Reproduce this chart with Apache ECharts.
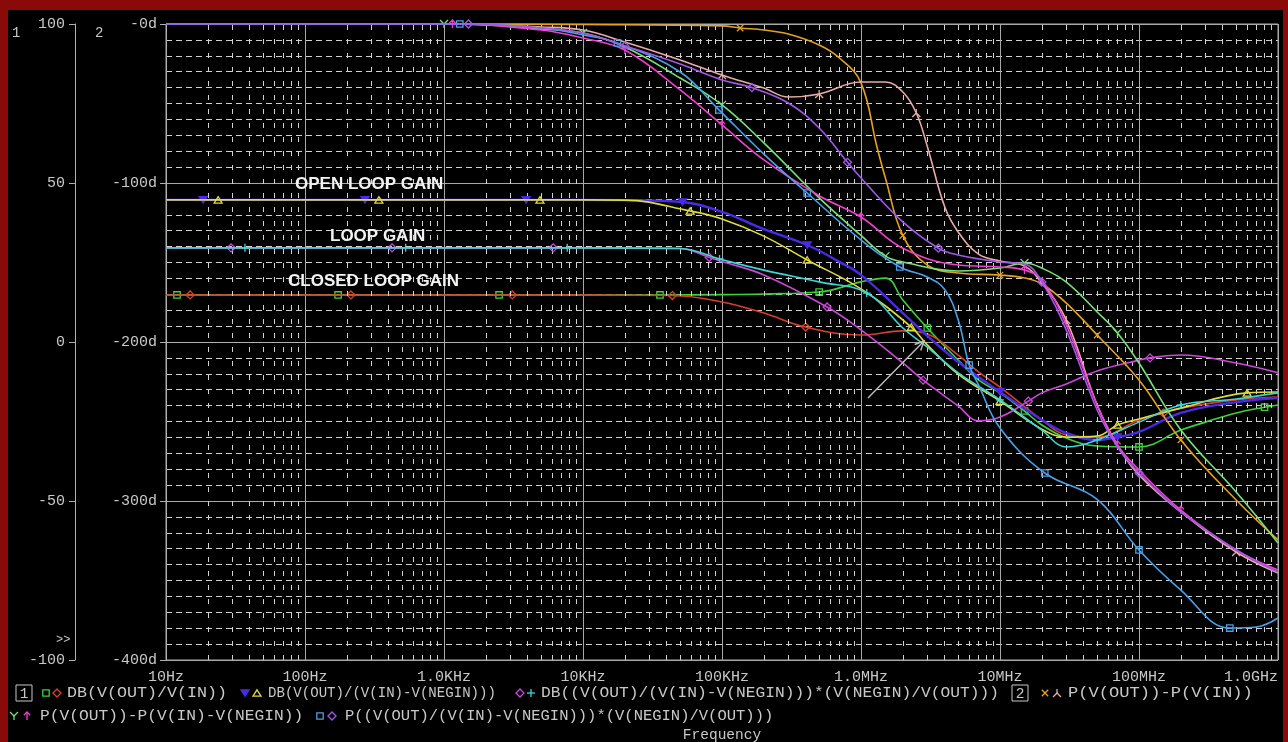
<!DOCTYPE html>
<html><head><meta charset="utf-8">
<script src="https://cdn.jsdelivr.net/npm/echarts@6/dist/echarts.min.js"></script>
<style>html,body{margin:0;padding:0;background:#000;}#c{width:1288px;height:742px;}</style>
</head><body><div id="c"></div>
<script>
// ---------- tick labels ----------
const xTickLabels = ['10Hz','100Hz','1.0KHz','10KHz','100KHz','1.0MHz','10MHz','100MHz','1.0GHz'];
const dbTickLabels = ['-100','-50','0','50','100'];
const phTickLabels = ['-400d','-300d','-200d','-100d','-0d'];

// ---------- legend expressions ----------
const exprDbClosed = 'DB(V(OUT)/V(IN))';
const exprDbOpen = 'DB(V(OUT)/(V(IN)-V(NEGIN)))';
const exprDbLoop = 'DB((V(OUT)/(V(IN)-V(NEGIN)))*(V(NEGIN)/V(OUT)))';
const exprPhOutIn = 'P(V(OUT))-P(V(IN))';
const exprPhNeg = 'P(V(OUT))-P(V(IN)-V(NEGIN))';
const exprPhLoop = 'P((V(OUT)/(V(IN)-V(NEGIN)))*(V(NEGIN)/V(OUT)))';

// ---------- gain traces (dB) ----------
const closed1F = [10,12,173,2490,35800,1e5,2e5,5e5,1e6,1.5e6,2e6,3e6,5e6,7e6,1e7,1.5e7,2e7,3e7,5e7,1e8,2e8,3e8,5e8,8e8,1e9];
const closed1V = [14.8,14.8,14.8,14.8,14.8,14.9,15.1,15.7,18.9,20.1,13.2,4.4,-5.7,-11.9,-16.0,-21.7,-26.1,-30.2,-32.7,-33.0,-27.7,-25.2,-22.3,-20.5,-19.8];
const closed1Mk = [1,2,3,4,7,11,15,19,23];

const closed2F = [10,14.9,214,3100,44000,1e5,2e5,4e5,1e6,2e6,3e6,5e6,7e6,1e7,2e7,3e7,5e7,1e8,1.5e8,2e8,5e8,1e9];
const closed2V = [14.8,14.8,14.8,14.8,14.6,12.6,9.1,4.7,2.2,3.5,2.5,-4.1,-9.4,-14.2,-24.5,-29.2,-29.9,-24.5,-22.3,-20.8,-18.2,-17.3];
const closed2Mk = [1,2,3,4,7,18];

const open1F = [10,18.5,270,3900,2e4,5.2e4,1e5,2e5,4.1e5,7e5,1e6,2e6,3e6,5e6,1e7,2e7,3e7,5e7,7e7,1e8,2e8,5e8,1e9];
const open1V = [44.7,44.7,44.7,44.7,44.6,44.0,40.9,35.5,30.5,25.2,21.1,9.1,1.9,-6.3,-15.7,-24.5,-28.6,-30.8,-29.9,-28.3,-22.3,-18.9,-17.6];
const open1Mk = [1,2,3,5,8,14,18];

const open2F = [10,23.7,340,4900,2e4,5.9e4,1e5,2e5,4.1e5,1e6,2.3e6,3e6,5e6,1e7,2e7,3e7,5e7,7e7,1e8,2e8,6e8,1e9];
const open2V = [44.7,44.7,44.7,44.7,44.6,41.2,38.7,33.3,25.8,16.7,4.7,-0.9,-10.1,-18.6,-27.4,-29.9,-29.6,-26.1,-24.2,-20.8,-16.0,-15.7];
const open2Mk = [1,2,3,5,8,10,13,17,20];

const loop1F = [10,29.4,423,6100,5e4,8.1e4,1e5,2e5,5.7e5,1e6,2e6,2.8e6,5e6,7e6,1e7,1.6e7,2e7,3e7,5e7,1e8,1.2e8,2e8,5e8,1e9];
const loop1V = [29.6,29.6,29.6,29.6,29.4,26.6,25.3,21.1,11.0,3.8,-6.6,-12.0,-20.1,-24.8,-23.6,-18.6,-16.0,-13.2,-9.1,-5.7,-5.0,-4.1,-6.6,-9.7];
const loop1Mk = [1,2,3,5,8,11,15,20];

const loop2F = [10,37,530,7700,5e4,9.6e4,2e5,5e5,1.1e6,2e6,3e6,5e6,1e7,2e7,3e7,5e7,1e8,2e8,5e8,1e9];
const loop2V = [29.6,29.6,29.6,29.6,29.4,26.1,22.6,18.9,15.4,4.4,-1.6,-9.7,-18.2,-27.7,-33.0,-30.8,-25.2,-19.8,-17.9,-16.0];
const loop2Mk = [1,2,3,5,8,12,15,17];

// ---------- phase traces (deg) ----------
const phOutIn1F = [10,1e3,1e4,1e5,1.35e5,2e5,3e5,5e5,7e5,1e6,1.3e6,1.5e6,2e6,3e6,5e6,1e7,1.5e7,2e7,3e7,5e7,1e8,2e8,5e8,1e9];
const phOutIn1V = [0,0,-0.3,-1.2,-2.5,-3.8,-6.3,-13.2,-21.4,-37,-77,-97,-133,-151.6,-156.6,-157.9,-159.7,-163.5,-175.5,-195.6,-223.9,-261.6,-299.4,-324.5];
const phOutIn1Mk = [4,12,15,19,21];

const phOutIn2F = [10,1e3,5e3,1e4,2e4,5e4,1e5,2e5,3e5,5e5,1e6,1.5e6,2e6,2.5e6,3e6,4e6,5e6,7e6,1e7,1.5e7,2e7,3e7,5e7,7e7,1e8,2e8,5e8,1e9];
const phOutIn2V = [0,0,-1.9,-3.8,-11.3,-22.6,-32.1,-40.3,-45.9,-44.0,-36.5,-36.5,-42.8,-56,-77,-115,-130.8,-144.7,-149.1,-152.2,-162.9,-186.2,-239.6,-264.8,-283.6,-306.9,-332.1,-345.3];
const phOutIn2Mk = [6,9,13,21,26];

const phNeg1F = [10,1e3,2e3,5e3,1e4,2e4,5e4,1e5,2e5,5e5,1e6,1.5e6,2e6,5e6,1e7,1.5e7,2e7,3e7,5e7,7e7,1e8,2e8,5e8,1e9];
const phNeg1V = [0,0,-0.6,-3.1,-5.7,-14.5,-34.0,-50.9,-74.8,-109.4,-133,-146,-149.7,-155.3,-153.5,-150.3,-153.5,-162.3,-181.1,-194.3,-213.2,-255.3,-294.3,-326.4];
const phNeg1Mk = [1,4,7,11,15,19];

const phNeg2F = [10,1.15e3,5e3,1e4,2e4,5e4,1e5,2e5,5e5,1e6,2e6,5e6,1e7,1.5e7,2e7,3e7,5e7,7e7,1e8,2e8,5e8,1e9];
const phNeg2V = [0,0,-3.8,-8.8,-16.4,-41.5,-63.5,-85.5,-108,-121.4,-141,-151.6,-152.8,-154.7,-161.0,-189.3,-239.6,-264.8,-280.5,-305.7,-330.8,-343.4];
const phNeg2Mk = [1,4,6,9,13,17,19];

const phLoop1F = [10,1.3e3,5e3,1e4,1.77e4,5e4,9.5e4,2e5,4.1e5,1e6,1.9e6,3e6,4e6,5e6,6e6,7e6,1e7,2.1e7,5e7,1e8,2e8,4.5e8,7e8,1e9];
const phLoop1V = [0,0,-2.5,-6.9,-11.9,-30.2,-54,-81.8,-106.3,-135.8,-152.8,-159.1,-167,-186,-214.5,-227.0,-254.1,-282.4,-299,-330.8,-356.0,-379.9,-379.2,-373.6];
const phLoop1Mk = [1,4,6,8,10,14,17,19,21];

const phLoop2F = [10,1.5e3,5e3,1e4,2e4,5e4,1e5,1.64e5,3e5,5e5,8e5,1e6,2e6,3.6e6,5e6,1e7,1.5e7,2e7,3e7,5e7,7e7,1e8,2e8,5e8,1e9];
const phLoop2V = [0,0,-2.5,-5.7,-13.8,-25.2,-35.2,-40,-49.7,-65.4,-87,-96.9,-124.5,-141,-145.3,-149.7,-150.9,-162.3,-192.5,-242.8,-266.0,-282.4,-306.9,-330.8,-344.7];
const phLoop2Mk = [1,4,7,10,13,17,21];

// ---------- styling ----------
const FONT = '"Liberation Mono", "DejaVu Sans Mono", monospace';
const TXT = '#c8c8c8';
// marker glyphs as strokes in a 10x10 box: [closed?, ...polylines]
const SYM = {
  rect: [true, [[1,1],[9,1],[9,9],[1,9]]],
  diamond: [true, [[5,0],[10,5],[5,10],[0,5]]],
  triDown: [true, [[0,1],[10,1],[5,9]]],
  triUp: [true, [[5,1],[10,9],[0,9]]],
  plus: [false, [[5,0],[5,10]], [[0,5],[10,5]]],
  cross: [false, [[1,1],[9,9]], [[9,1],[1,9]]],
  Y: [false, [[0,0],[5,5],[10,0]], [[5,5],[5,10]]],
  invY: [false, [[5,0],[5,5]], [[0,10],[5,5],[10,10]]],
  up: [false, [[5,0],[5,10]], [[1,4],[5,0],[9,4]]]
};
function symPath(name) {
  const s = SYM[name], closed = s[0];
  let d = 'M0,0M10,10';
  for (let i = 1; i < s.length; i++) {
    d += s[i].map((p, j) => (j ? 'L' : 'M') + p[0] + ',' + p[1]).join('') + (closed ? 'Z' : '');
  }
  return 'path://' + d;
}

const traces = [
  {f:closed1F, v:closed1V, mk:closed1Mk, ax:0, color:'#3cd23c', sym:'rect', fill:false},
  {f:closed2F, v:closed2V, mk:closed2Mk, ax:0, color:'#d8402c', sym:'diamond', fill:false},
  {f:open1F, v:open1V, mk:open1Mk, ax:0, color:'#4a2ae6', sym:'triDown', fill:true, w:2.4},
  {f:open2F, v:open2V, mk:open2Mk, ax:0, color:'#dcdc40', sym:'triUp', fill:false},
  {f:loop1F, v:loop1V, mk:loop1Mk, ax:0, color:'#cc48d8', sym:'diamond', fill:false},
  {f:loop2F, v:loop2V, mk:loop2Mk, ax:0, color:'#40d4d4', sym:'plus', fill:false},
  {f:phOutIn1F, v:phOutIn1V, mk:phOutIn1Mk, ax:1, color:'#e6a020', sym:'cross', fill:false},
  {f:phOutIn2F, v:phOutIn2V, mk:phOutIn2Mk, ax:1, color:'#e8aaa4', sym:'invY', fill:false},
  {f:phNeg1F, v:phNeg1V, mk:phNeg1Mk, ax:1, color:'#78e078', sym:'Y', fill:false},
  {f:phNeg2F, v:phNeg2V, mk:phNeg2Mk, ax:1, color:'#f040d0', sym:'up', fill:false},
  {f:phLoop1F, v:phLoop1V, mk:phLoop1Mk, ax:1, color:'#4aa0e8', sym:'rect', fill:false},
  {f:phLoop2F, v:phLoop2V, mk:phLoop2Mk, ax:1, color:'#a058e8', sym:'diamond', fill:false}
];

const series = traces.map((t, k) => ({
  type: 'line', yAxisIndex: t.ax, smooth: 0.4,
  symbol: 'none', showSymbol: true, silent: true, animation: false, z: 3 + k,
  lineStyle: {color: t.color, width: t.w || 1.6},
  itemStyle: {color: t.color},
  data: t.f.map((f, i) => t.mk.indexOf(i) >= 0 ? {
    value: [f, t.v[i]], symbol: symPath(t.sym), symbolSize: 8,
    itemStyle: {color: t.fill ? t.color : 'rgba(0,0,0,0)', borderColor: t.color, borderWidth: 1.3}
  } : [f, t.v[i]])
}));

// minor vertical grid (2..9 in each decade)
const minorF = [];
for (let d = 1; d <= 8; d++) for (let k = 2; k <= 9; k++) minorF.push(k * Math.pow(10, d));
series.unshift({
  type: 'line', data: [], silent: true, animation: false, z: 1, symbol: 'none',
  markLine: {silent: true, symbol: ['none','none'], label: {show: false}, animation: false,
    lineStyle: {color: '#d0d0d0', type: [5, 9], width: 1},
    emphasis: {disabled: true},
    data: minorF.map(f => ({xAxis: f}))}
});

// ---------- graphic (legend, annotations, frame) ----------
const G = [];
function symG(name, color, fill, cx, cy) {
  const s = SYM[name], closed = s[0];
  for (let i = 1; i < s.length; i++) {
    const pts = s[i].map(p => [cx - 4 + p[0] * 0.8, cy - 4 + p[1] * 0.8]);
    G.push({type: closed ? 'polygon' : 'polyline', shape: {points: pts},
      style: {fill: closed && fill ? color : 'none', stroke: color, lineWidth: 1.3}, z: 100});
  }
}
function txtG(text, x, y, opts, sx) {
  G.push({type: 'text', x: x, y: y, z: 100, scaleX: sx || 1,
    style: Object.assign({text: text, fill: TXT, font: '14.5px ' + FONT, textVerticalAlign: 'middle', verticalAlign: 'middle'}, opts || {})});
}
function boxG(label, x, y) {
  G.push({type: 'rect', shape: {x: x, y: y - 8, width: 16, height: 16}, style: {fill: 'none', stroke: TXT, lineWidth: 1}, z: 100});
  txtG(label, x + 8, y + 1, {textAlign: 'center'});
}
const ly1 = 693, ly2 = 716;
boxG('1', 16, ly1);
symG(traces[0].sym, traces[0].color, false, 46, ly1); symG(traces[1].sym, traces[1].color, false, 57, ly1); txtG(exprDbClosed, 67, ly1, null, 1.15);
symG(traces[2].sym, traces[2].color, true, 245, ly1); symG(traces[3].sym, traces[3].color, false, 257, ly1); txtG(exprDbOpen, 268, ly1, null, 0.97);
symG(traces[4].sym, traces[4].color, false, 520, ly1); symG(traces[5].sym, traces[5].color, false, 531, ly1); txtG(exprDbLoop, 541, ly1, null, 1.12);
boxG('2', 1012, ly1);
symG(traces[6].sym, traces[6].color, false, 1045, ly1); symG(traces[7].sym, traces[7].color, false, 1057, ly1); txtG(exprPhOutIn, 1068, ly1, null, 1.18);
symG(traces[8].sym, traces[8].color, false, 14, ly2); symG(traces[9].sym, traces[9].color, false, 27, ly2); txtG(exprPhNeg, 40, ly2, null, 1.12);
symG(traces[10].sym, traces[10].color, false, 320, ly2); symG(traces[11].sym, traces[11].color, false, 332, ly2); txtG(exprPhLoop, 345, ly2, null, 1.07);
txtG('Frequency', 722, 735, {textAlign: 'center'});

// axis ids and misc
txtG('1', 12, 33, {font: '14px ' + FONT});
txtG('2', 95, 33, {font: '14px ' + FONT});
txtG('>>', 56, 640, {font: '12px ' + FONT});

// annotations
const annoFont = 'bold 17px "Liberation Sans", Arial, sans-serif';
txtG('OPEN LOOP GAIN', 295, 184, {font: annoFont, fill: '#f2f2f2'});
txtG('LOOP GAIN', 330, 236, {font: annoFont, fill: '#f2f2f2'});
txtG('CLOSED LOOP GAIN', 288, 281, {font: annoFont, fill: '#f2f2f2'});

// arrow
G.push({type: 'polyline', shape: {points: [[868, 398], [924, 341]]}, style: {stroke: '#bdbdbd', lineWidth: 1.4, fill: 'none'}, z: 100});
G.push({type: 'polyline', shape: {points: [[914.6, 344.5], [924, 341], [920.7, 350.4]]}, style: {stroke: '#bdbdbd', lineWidth: 1.4, fill: 'none'}, z: 100});

// red frame
G.push({type: 'rect', shape: {x: 0, y: 0, width: 8, height: 742}, style: {fill: '#8a0a0a'}, z: 120});
G.push({type: 'rect', shape: {x: 0, y: 0, width: 1288, height: 10}, style: {fill: '#8a0a0a'}, z: 120});
G.push({type: 'rect', shape: {x: 1283, y: 0, width: 5, height: 742}, style: {fill: '#8a0a0a'}, z: 120});

const chart = echarts.init(document.getElementById('c'), null, {renderer: 'canvas'});
chart.setOption({
  backgroundColor: '#000',
  animation: false,
  grid: {left: 166, right: 10, top: 24, bottom: 82, show: true, borderColor: '#a8a8a8', borderWidth: 1, backgroundColor: 'transparent'},
  xAxis: {
    type: 'log', logBase: 10, min: 10, max: 1e9,
    axisLine: {show: true, lineStyle: {color: '#b0b0b0'}},
    axisTick: {show: true, length: 6, lineStyle: {color: '#b0b0b0'}},
    axisLabel: {color: TXT, fontFamily: FONT, fontSize: 15, margin: 10, alignMaxLabel: 'right',
      formatter: v => xTickLabels[Math.round(Math.log10(v)) - 1]},
    splitLine: {show: true, lineStyle: {color: '#a8a8a8', width: 1}}
  },
  yAxis: [
    {type: 'value', min: -100, max: 100, interval: 50, position: 'left', offset: 91,
      axisLine: {show: true, lineStyle: {color: '#b0b0b0'}},
      axisTick: {show: true, length: 6, lineStyle: {color: '#b0b0b0'}},
      axisLabel: {color: TXT, fontFamily: FONT, fontSize: 15, margin: 10,
        formatter: v => dbTickLabels[Math.round((v + 100) / 50)]},
      splitLine: {show: true, lineStyle: {color: '#a8a8a8', width: 1}},
      minorTick: {show: false, splitNumber: 10},
      minorSplitLine: {show: true, lineStyle: {color: '#d0d0d0', type: [6, 4], width: 1}}
    },
    {type: 'value', min: -400, max: 0, interval: 100, position: 'left', offset: 0,
      axisLine: {show: true, lineStyle: {color: '#b0b0b0'}},
      axisTick: {show: true, length: 6, lineStyle: {color: '#b0b0b0'}},
      axisLabel: {color: TXT, fontFamily: FONT, fontSize: 15, margin: 9,
        formatter: v => phTickLabels[Math.round((v + 400) / 100)]},
      splitLine: {show: false}
    }
  ],
  series: series,
  graphic: {elements: G}
});
</script>
</body></html>
